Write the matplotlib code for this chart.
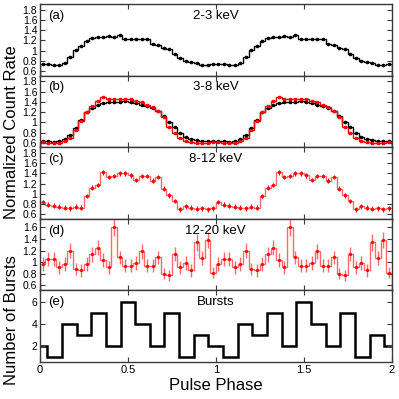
import numpy as np
import matplotlib
matplotlib.use("Agg")
import matplotlib.pyplot as plt
from matplotlib.ticker import FuncFormatter

plt.rcParams['font.family'] = ['Liberation Sans', 'DejaVu Sans']

# ---------------- data (one pulse cycle, 32 bins) ----------------
n_bins = 32
prof_2_3 = [0.74, 0.735, 0.72, 0.73, 0.76, 0.87, 1.01, 1.09, 1.19, 1.25, 1.26, 1.26,
            1.28, 1.27, 1.30, 1.22, 1.23, 1.23, 1.23, 1.23, 1.14, 1.12, 1.06, 1.03,
            0.94, 0.85, 0.80, 0.78, 0.76, 0.73, 0.73, 0.74]
err_2_3 = [0.012] * n_bins

prof_3_8_black = [0.63, 0.63, 0.62, 0.63, 0.68, 0.75, 0.89, 1.05, 1.20, 1.28, 1.33, 1.37,
                  1.39, 1.39, 1.40, 1.41, 1.40, 1.37, 1.34, 1.31, 1.28, 1.22, 1.13, 1.01,
                  0.91, 0.80, 0.72, 0.67, 0.65, 0.64, 0.63, 0.63]
err_3_8_black = [0.015] * n_bins
prof_3_8_red = [0.61, 0.60, 0.60, 0.60, 0.64, 0.70, 0.85, 1.03, 1.20, 1.31, 1.42, 1.49,
                1.45, 1.45, 1.46, 1.46, 1.45, 1.42, 1.39, 1.33, 1.29, 1.22, 1.10, 0.90,
                0.80, 0.70, 0.64, 0.61, 0.60, 0.60, 0.60, 0.61]
err_3_8_red = [0.02] * n_bins

prof_8_12 = [0.84, 0.79, 0.77, 0.75, 0.73, 0.72, 0.75, 0.73, 0.96, 1.12, 1.17, 1.42,
             1.33, 1.35, 1.40, 1.40, 1.36, 1.27, 1.35, 1.35, 1.26, 1.33, 1.10, 0.97,
             0.86, 0.70, 0.76, 0.73, 0.71, 0.72, 0.70, 0.72]
err_8_12 = [0.045] * n_bins

prof_12_20 = [0.97, 1.05, 1.05, 0.91, 0.97, 1.20, 0.88, 0.86, 0.97, 1.14, 1.25, 1.03,
              0.91, 1.60, 1.08, 0.94, 0.94, 0.99, 1.19, 0.94, 0.94, 1.08, 0.80, 0.77,
              1.14, 0.91, 0.99, 0.86, 1.34, 1.07, 1.38, 0.82]
err_12_20 = [0.12, 0.12, 0.12, 0.11, 0.12, 0.13, 0.11, 0.11, 0.12, 0.13, 0.13, 0.12,
             0.11, 0.15, 0.12, 0.11, 0.11, 0.12, 0.13, 0.11, 0.11, 0.12, 0.10, 0.10,
             0.12, 0.11, 0.12, 0.11, 0.14, 0.12, 0.14, 0.10]

# bursts per phase bin (12 bins, centred on k/12)
bursts = [2, 1, 4, 3, 5, 2, 6, 4, 2, 5, 1, 3]

energy_labels = ['2-3 keV', '3-8 keV', '8-12 keV', '12-20 keV', 'Bursts']
panel_letters = ['(a)', '(b)', '(c)', '(d)', '(e)']
x_ticks = [0, 0.5, 1, 1.5, 2]

# ---------------- figure ----------------
fig = plt.figure(figsize=(3.99, 3.99), dpi=100)
gs = fig.add_gridspec(5, 1, left=40 / 399, right=391.5 / 399,
                      top=1 - 4 / 399, bottom=1 - 362 / 399, hspace=0)
axes = [fig.add_subplot(gs[i]) for i in range(5)]

edges = np.arange(2 * n_bins + 1) / n_bins
centers = (edges[:-1] + edges[1:]) / 2

spine_c = '#3a3a3a'
light_red = '#ff6a6a'


def cyc(v):
    return np.tile(np.asarray(v, float), 2)


# (a)
ax = axes[0]
ax.stairs(cyc(prof_2_3), edges, color='black', lw=1.0)
ax.errorbar(centers, cyc(prof_2_3), yerr=cyc(err_2_3), fmt='o', ms=1.6,
            color='black', ecolor='black', elinewidth=0.7, capsize=0)

# (b)
ax = axes[1]
ax.stairs(cyc(prof_3_8_black), edges, color='black', lw=1.0, zorder=2)
ax.errorbar(centers, cyc(prof_3_8_black), yerr=cyc(err_3_8_black), fmt='o', ms=1.6,
            color='black', ecolor='black', elinewidth=0.7, capsize=0, zorder=3)
ax.stairs(cyc(prof_3_8_red), edges, color='red', lw=1.0, zorder=2)
ax.errorbar(centers, cyc(prof_3_8_red), yerr=cyc(err_3_8_red), fmt='s', ms=1.6,
            color='red', ecolor='red', elinewidth=0.7, capsize=0, zorder=3)

# (c)
ax = axes[2]
ax.stairs(cyc(prof_8_12), edges, color=light_red, lw=1.0)
ax.errorbar(centers, cyc(prof_8_12), yerr=cyc(err_8_12), fmt='o', ms=1.4,
            color='red', ecolor='red', elinewidth=0.8, capsize=0)

# (d)
ax = axes[3]
ax.stairs(cyc(prof_12_20), edges, color=light_red, lw=1.0)
ax.errorbar(centers, cyc(prof_12_20), yerr=cyc(err_12_20), fmt='o', ms=1.3,
            color='red', ecolor=light_red, elinewidth=1.0, capsize=0)

# (e)
ax = axes[4]
b_edges = (np.arange(2 * len(bursts) + 2) - 0.5) / len(bursts)
b_vals = np.concatenate([bursts, bursts, bursts[:1]])
ax.stairs(b_vals, b_edges, color='black', lw=1.8, baseline=None)

ylims = [(0.515, 1.91), (0.515, 1.91), (0.515, 1.91), (0.51, 1.75), (0.55, 7.0)]
yticks = [[0.6, 0.8, 1.0, 1.2, 1.4, 1.6, 1.8]] * 3 + [[0.6, 0.8, 1.0, 1.2, 1.4, 1.6], [2, 4, 6]]

for i, ax in enumerate(axes):
    ax.set_xlim(0, 2)
    ax.set_ylim(*ylims[i])
    ax.set_yticks(yticks[i])
    ax.set_xticks(x_ticks)
    ax.yaxis.set_major_formatter(FuncFormatter(lambda v, p: '%g' % v))
    ax.xaxis.set_major_formatter(FuncFormatter(lambda v, p: '%g' % v))
    ax.tick_params(direction='in', top=True, right=True, length=3.5, width=0.8,
                   color=spine_c, labelsize=7.5, pad=2)
    ax.tick_params(axis='x', labelsize=8)
    if i < 4:
        ax.tick_params(labelbottom=False)
    for s in ax.spines.values():
        s.set_color(spine_c)
        s.set_linewidth(1.0)
    ax.text(0.023, 0.835, panel_letters[i], transform=ax.transAxes,
            fontsize=9.5, ha='left', va='center')
    ax.text(0.5, 0.835, energy_labels[i], transform=ax.transAxes,
            fontsize=9.5, ha='center', va='center')

fig.text(0.03, 1 - 132 / 399, 'Normalized Count Rate', rotation=90,
         ha='center', va='center', fontsize=12)
fig.text(0.03, 1 - 320 / 399, 'Number of Bursts', rotation=90,
         ha='center', va='center', fontsize=12)
fig.text((40 + 391.5) / 2 / 399, 1 - 385 / 399, 'Pulse Phase',
         ha='center', va='center', fontsize=12)

fig.savefig('out.png', dpi=100)
